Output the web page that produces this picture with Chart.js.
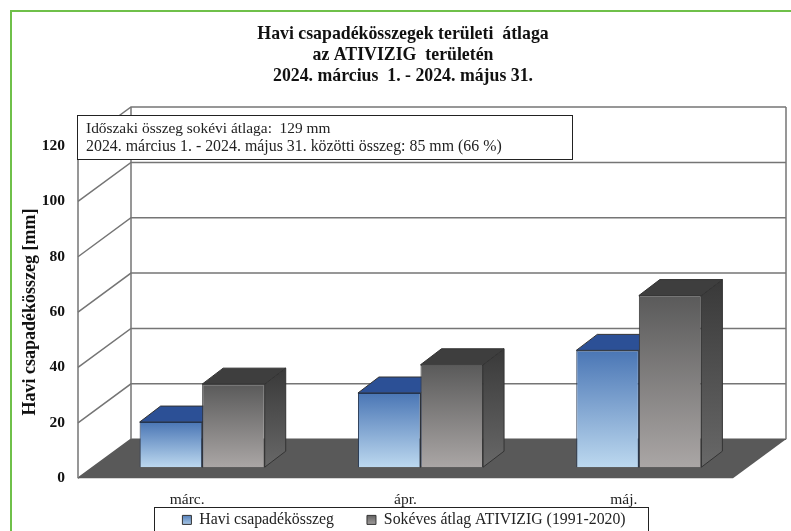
<!DOCTYPE html>
<html><head><meta charset="utf-8">
<style>html,body{margin:0;padding:0;background:#fff;overflow:hidden}canvas{display:block}</style>
<script src="https://cdn.jsdelivr.net/npm/chart.js@4"></script></head>
<body><canvas id="c" width="791" height="531"></canvas>
<script>
const categories = ['márc.', 'ápr.', 'máj.'];
const monthlySum = [16.3, 26.8, 42.2];
const longTermAvg = [30, 37, 62];
const seriesNames = ['Havi csapadékösszeg', 'Sokéves átlag ATIVIZIG (1991-2020)'];
const titleLines = ['Havi csapadékösszegek területi  átlaga', 'az ATIVIZIG  területén', '2024. március  1. - 2024. május 31.'];
const yAxisTitle = 'Havi csapadékösszeg [mm]';
const noteLines = ['Időszaki összeg sokévi átlaga:  129 mm', '2024. március 1. - 2024. május 31. közötti összeg: 85 mm (66 %)'];

const SERIF = '"Liberation Serif", serif';
const WALL = {dx: 53, dy: -39};
const BARSHIFT = {dx: 15, dy: -11};
const DEPTH = {dx: 21, dy: -16};

function vGrad(ctx, y0, y1, c0, c1) {
  const g = ctx.createLinearGradient(0, y0, 0, y1);
  g.addColorStop(0, c0); g.addColorStop(1, c1); return g;
}
function poly(ctx, pts, fill, stroke, lw) {
  ctx.beginPath(); pts.forEach((p, i) => i ? ctx.lineTo(p[0], p[1]) : ctx.moveTo(p[0], p[1])); ctx.closePath();
  if (fill) { ctx.fillStyle = fill; ctx.fill(); }
  if (stroke) { ctx.strokeStyle = stroke; ctx.lineWidth = lw || 1; ctx.stroke(); }
}
function barGradient(c0, c1) {
  return (ctx) => {
    const chart = ctx.chart, s = chart.scales && chart.scales.y;
    if (!s || ctx.parsed === undefined) return c0;
    return vGrad(chart.ctx, s.getPixelForValue(ctx.parsed.y), s.getPixelForValue(0), c0, c1);
  };
}

const scene = {
  id: 'scene',
  beforeLayout(chart) {
    chart.legend.afterFit = function () { this.height = 22; };
  },
  beforeDraw(chart) {
    const c = chart.ctx;
    c.save();
    c.fillStyle = '#fff'; c.fillRect(0, 0, 791, 531);
    c.strokeStyle = '#6fc04a'; c.lineWidth = 2;
    c.beginPath(); c.moveTo(11, 531); c.lineTo(11, 11); c.lineTo(791, 11); c.stroke();
    c.fillStyle = '#fff'; c.strokeStyle = '#222'; c.lineWidth = 1;
    c.fillRect(154.5, 507.5, 494, 30); c.strokeRect(154.5, 507.5, 494, 30);
    c.restore();
  },
  afterLayout(chart) {
    chart.titleBlock.left -= 2.5; chart.titleBlock.right -= 2.5;
    const l = chart.legend;
    l.left -= 1.5; l.right -= 1.5;
    l.top = 512 - l.options.labels.padding; l.bottom = 531;
  },
  beforeDatasetsDraw(chart) {
    const c = chart.ctx, a = chart.chartArea, y = chart.scales.y;
    const wx = WALL.dx, wy = WALL.dy;
    const y0 = y.getPixelForValue(0);
    c.save();
    const line = '#757575';
    poly(c, [[a.left, y0], [a.left + wx, y0 + wy], [a.right + wx, y0 + wy], [a.right, y0]], '#595959', null);
    c.lineWidth = 1.5;
    y.ticks.forEach(t => {
      const p = y.getPixelForValue(t.value);
      c.strokeStyle = t.value === 0 ? '#595959' : line;
      c.beginPath(); c.moveTo(a.left, p); c.lineTo(a.left + wx, p + wy); c.lineTo(a.right + wx, p + wy); c.stroke();
    });
    const top = y.getPixelForValue(120);
    c.strokeStyle = line;
    c.beginPath();
    c.moveTo(a.left, y0); c.lineTo(a.left, top);
    c.moveTo(a.left + wx, y0 + wy); c.lineTo(a.left + wx, top + wy);
    c.moveTo(a.right + wx, y0 + wy); c.lineTo(a.right + wx, top + wy);
    c.stroke();
    const styles = [
      {top: '#2c5096', side: ['#233f78', '#3c5f9c']},
      {top: '#3e3e3e', side: ['#393939', '#686868']}
    ];
    chart.data.datasets.forEach((d, i) => {
      chart.getDatasetMeta(i).data.forEach(b => {
        const l = b.x - b.width / 2 + BARSHIFT.dx, r = b.x + b.width / 2 + BARSHIFT.dx;
        const t = b.y + BARSHIFT.dy, g = b.base + BARSHIFT.dy;
        const dx = DEPTH.dx, dy = DEPTH.dy, st = styles[i];
        poly(c, [[r, t], [r + dx, t + dy], [r + dx, g + dy], [r, g]], vGrad(c, t + dy, g, st.side[0], st.side[1]), '#333', 1);
        poly(c, [[l, t], [l + dx, t + dy], [r + dx, t + dy], [r, t]], st.top, '#333', 1);
      });
    });
    c.restore();
  },
  beforeDatasetDraw(chart) { chart.ctx.save(); chart.ctx.translate(BARSHIFT.dx, BARSHIFT.dy); },
  afterDatasetDraw(chart) { chart.ctx.restore(); },
  afterDraw(chart) {
    const c = chart.ctx;
    c.save();
    c.fillStyle = '#fff'; c.strokeStyle = '#222'; c.lineWidth = 1;
    c.fillRect(77.5, 115.5, 495, 44); c.strokeRect(77.5, 115.5, 495, 44);
    c.fillStyle = '#222'; c.textAlign = 'left'; c.textBaseline = 'middle';
    c.font = '15.4px ' + SERIF;
    c.fillText(noteLines[0], 86, 129);
    c.font = '15.9px ' + SERIF;
    c.fillText(noteLines[1], 86, 147);
    c.restore();
  }
};

const ctx = document.getElementById('c').getContext('2d');
const legendFills = [vGrad(ctx, 514, 526, '#4a76b5', '#b5d3ec'), vGrad(ctx, 514, 526, '#5a5a5a', '#aaa6a5')];

new Chart(ctx, {
  type: 'bar',
  data: {
    labels: categories,
    datasets: [
      {label: seriesNames[0], data: monthlySum, backgroundColor: barGradient('#4a76b5', '#bcd8ef'), borderColor: '#23344f', borderWidth: 1, categoryPercentage: 0.573, barPercentage: 1, clip: false},
      {label: seriesNames[1], data: longTermAvg, backgroundColor: barGradient('#5a5a5a', '#aaa6a5'), borderColor: '#333', borderWidth: 1, categoryPercentage: 0.573, barPercentage: 1, clip: false}
    ]
  },
  options: {
    responsive: false, animation: false, devicePixelRatio: 1,
    layout: {padding: {left: 20, right: 58, top: 0, bottom: -38}},
    plugins: {
      tooltip: {enabled: false},
      title: {display: true, text: titleLines, fullSize: false, color: '#111',
        font: {family: SERIF, size: 17.8, weight: 'bold', lineHeight: 1.18}, padding: {top: 23.5, bottom: 59.5}},
      legend: {position: 'bottom', fullSize: false,
        labels: {color: '#222', font: {family: SERIF, size: 15.8}, boxWidth: 9, boxHeight: 9, padding: 33,
          generateLabels: () => seriesNames.map((n, i) => ({text: n, fillStyle: legendFills[i], strokeStyle: '#333', lineWidth: 1, datasetIndex: i, fontColor: '#222'}))}}
    },
    scales: {
      x: {offset: true, grid: {display: false}, border: {display: false},
        ticks: {color: '#222', font: {family: SERIF, size: 15.5}, padding: 4.5, maxRotation: 0},
        afterFit: s => { s.height = 32; }},
      y: {min: 0, max: 120, grid: {display: false}, border: {display: false},
        ticks: {stepSize: 20, color: '#111', font: {family: SERIF, size: 15.5, weight: 'bold'}, padding: 5},
        title: {display: true, text: yAxisTitle, color: '#111', font: {family: SERIF, size: 18, weight: 'bold'}, padding: 0},
        afterFit: s => { s.width = 58; }}
    }
  },
  plugins: [scene]
});
</script></body></html>
